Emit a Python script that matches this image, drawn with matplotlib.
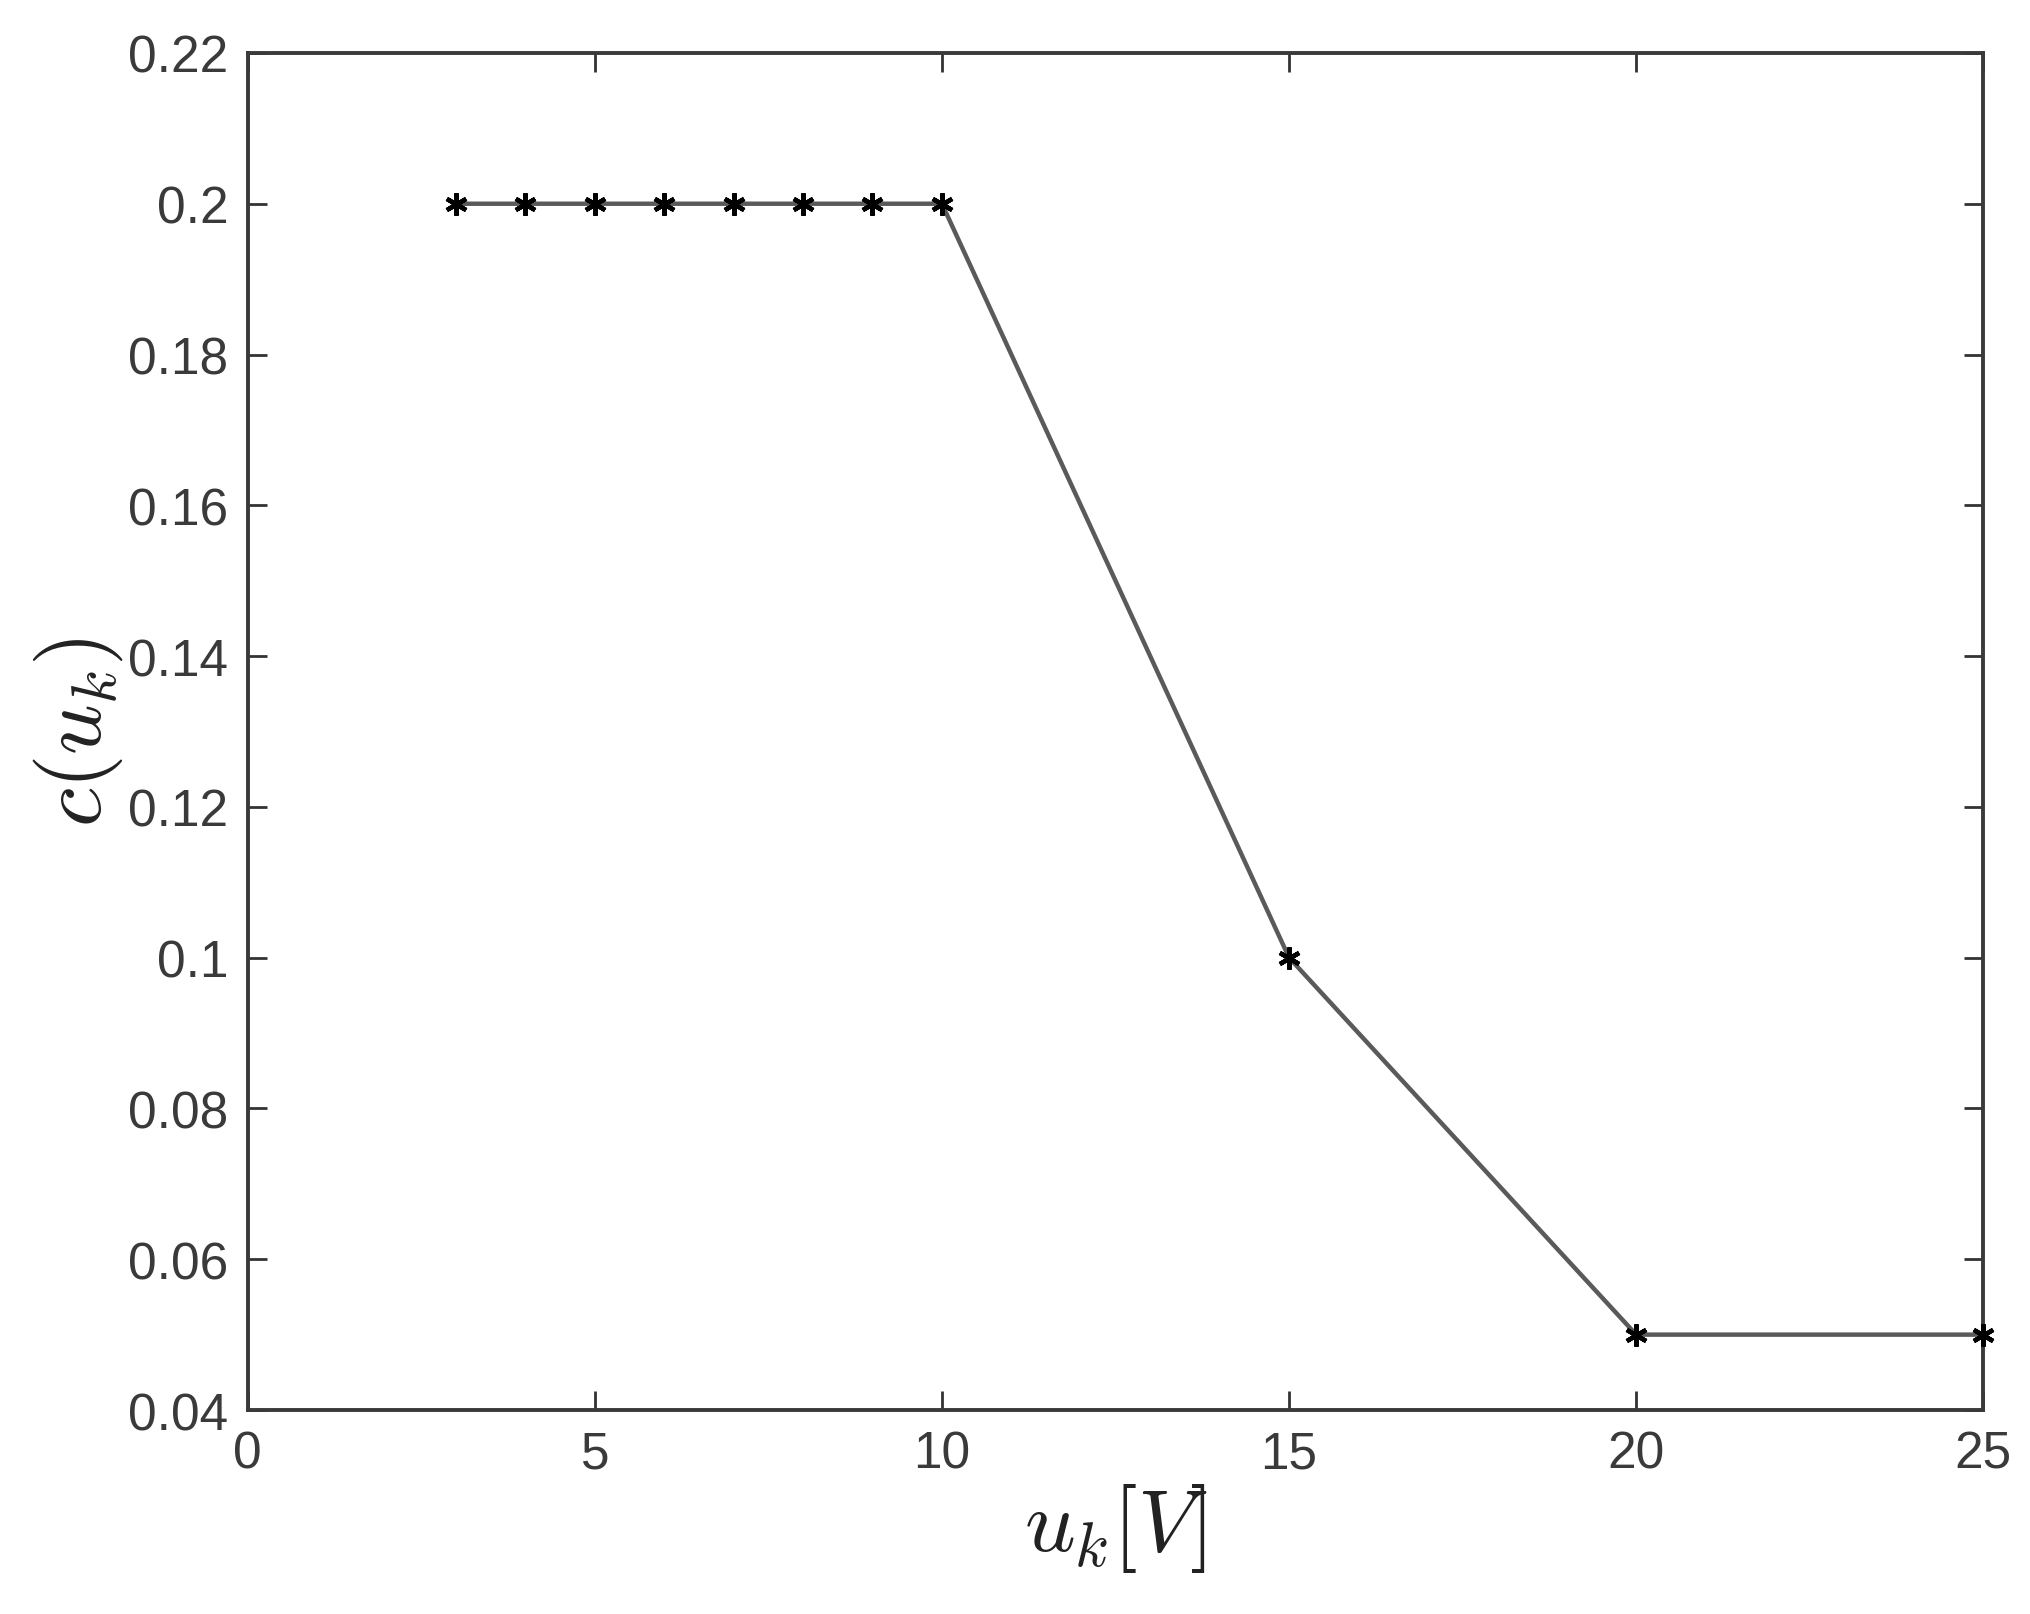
import matplotlib.pyplot as plt
import numpy as np
from matplotlib.ticker import FuncFormatter, MultipleLocator

# data
u_k = [3, 4, 5, 6, 7, 8, 9, 10, 15, 20, 25]
c_u = [0.2, 0.2, 0.2, 0.2, 0.2, 0.2, 0.2, 0.2, 0.1, 0.05, 0.05]

plt.rcParams['font.family'] = ['Liberation Sans', 'DejaVu Sans']
plt.rcParams['mathtext.fontset'] = 'cm'
plt.rcParams['xtick.direction'] = 'in'
plt.rcParams['ytick.direction'] = 'in'

fig = plt.figure(figsize=(20.30, 16.15), dpi=100)
ax = fig.add_axes([0.122, 0.1263, 0.855, 0.8403])

ax.plot(u_k, c_u, color='#5a5a5a', linewidth=3.2, marker=(6, 2, 0), markersize=16,
        markeredgewidth=3.2, markerfacecolor='black', markeredgecolor='black',
        clip_on=False, zorder=3)

ax.set_xlim(0, 25)
ax.set_ylim(0.04, 0.22)
ax.xaxis.set_major_locator(MultipleLocator(5))
ax.yaxis.set_major_locator(MultipleLocator(0.02))
ax.yaxis.set_major_formatter(FuncFormatter(lambda v, p: '%g' % round(v, 2)))

ax.tick_params(axis='both', which='major', top=True, right=True, length=14,
               width=2, color='#333333', labelsize=37, labelcolor='#3a3a3a', pad=14)
for s in ax.spines.values():
    s.set_linewidth(2.8)
    s.set_color('#3a3a3a')

ax.set_xlabel(r'$u_k[V]$', fontsize=64, color='#222222', labelpad=2)
ax.set_ylabel(r'$c(u_k)$', fontsize=64, color='#222222', labelpad=2)

plt.savefig('out.png', dpi=100)
